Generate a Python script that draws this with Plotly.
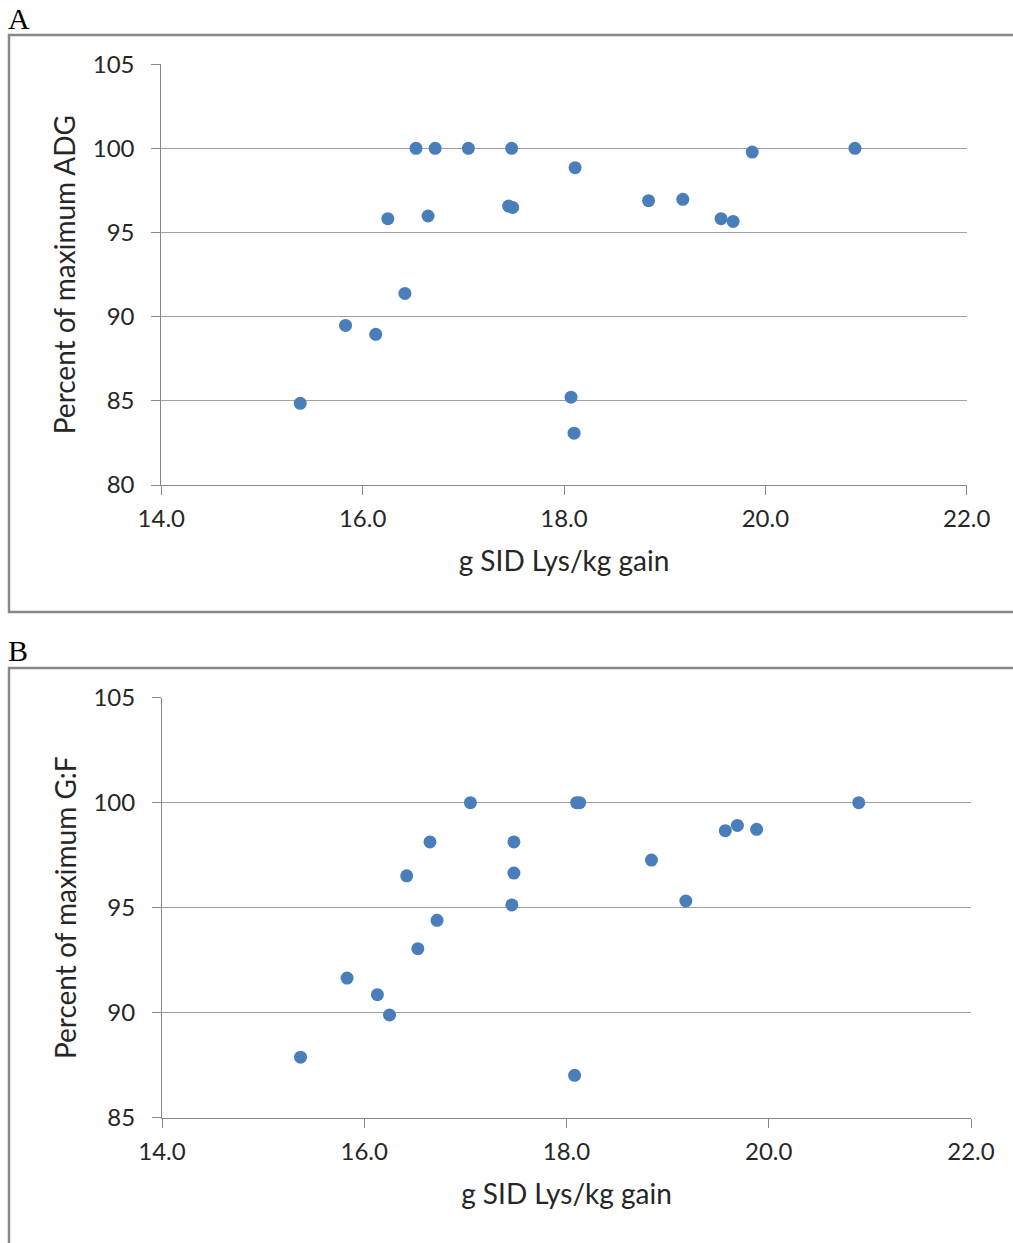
import plotly.graph_objects as go

W, H = 1013, 1243

# Panel A data: g SID Lys/kg gain vs percent of maximum ADG
lys_a = [15.38, 15.83, 16.13, 16.42, 16.25, 16.65, 16.53, 16.72, 17.05, 17.48, 17.45,
         17.49, 18.11, 18.07, 18.10, 18.84, 19.18, 19.56, 19.68, 19.87, 20.89]
adg_a = [84.85, 89.48, 88.95, 91.38, 95.82, 95.98, 100.0, 100.0, 100.0, 100.0, 96.57,
         96.49, 98.85, 85.22, 83.08, 96.89, 96.97, 95.82, 95.66, 99.78, 100.0]

# Panel B data: g SID Lys/kg gain vs percent of maximum G:F
lys_b = [15.37, 15.83, 16.13, 16.25, 16.42, 16.53, 16.65, 16.72, 17.05, 17.46, 17.48,
         17.48, 18.08, 18.10, 18.13, 18.84, 19.18, 19.57, 19.69, 19.88, 20.89]
gf_b = [87.88, 91.65, 90.86, 89.89, 96.52, 93.05, 98.13, 94.40, 100.0, 95.13, 96.65,
        98.13, 87.02, 100.0, 100.0, 97.27, 95.32, 98.67, 98.92, 98.73, 100.0]

x_ticks = [14, 16, 18, 20, 22]
x_ticktext = ["14.0", "16.0", "18.0", "20.0", "22.0"]
y_ticks_a = [80, 85, 90, 95, 100, 105]
y_ticks_b = [85, 90, 95, 100, 105]

MARKER = "#4A7EBB"
GRID = "#A0A0A0"
AXIS = "#888888"
TXT = "#262626"
FONT = "Lato"

fig = go.Figure()
fig.add_trace(go.Scatter(x=lys_a, y=adg_a, mode="markers", xaxis="x", yaxis="y",
                         marker=dict(size=13, color=MARKER, line=dict(width=0)),
                         showlegend=False))
fig.add_trace(go.Scatter(x=lys_b, y=gf_b, mode="markers", xaxis="x2", yaxis="y2",
                         marker=dict(size=13, color=MARKER, line=dict(width=0)),
                         showlegend=False))


def px_x(p):
    return p / W


def px_y(p):
    return 1 - p / H


xcommon = dict(tickmode="array", tickvals=x_ticks, ticktext=x_ticktext,
               showgrid=False, zeroline=False, showline=True, linecolor=AXIS, linewidth=1,
               ticks="outside", ticklen=9, tickcolor=AXIS, tickwidth=1,
               tickfont=dict(family=FONT, size=24, color=TXT), ticklabelstandoff=3,
               title=dict(text="g SID Lys/kg gain", font=dict(family=FONT, size=28, color=TXT),
                          standoff=20),
               range=[14, 22], fixedrange=True, automargin=False)
ycommon = dict(showgrid=True, gridcolor=GRID, gridwidth=1, zeroline=False,
               showline=True, linecolor=AXIS, linewidth=1,
               ticks="outside", ticklen=9, tickcolor=AXIS, tickwidth=1,
               tickfont=dict(family=FONT, size=24, color=TXT), ticklabelstandoff=12,
               fixedrange=True, automargin=False)

fig.update_layout(
    width=W, height=H, margin=dict(l=0, r=0, t=0, b=0, autoexpand=False),
    paper_bgcolor="white", plot_bgcolor="white",
    xaxis=dict(domain=[px_x(161.3), px_x(966.7)], anchor="y", **xcommon),
    yaxis=dict(domain=[px_y(485), px_y(64.2)], anchor="x", range=[80, 105],
               tickvals=y_ticks_a,
               title=dict(text="Percent of maximum ADG",
                          font=dict(family=FONT, size=28, color=TXT), standoff=8),
               **ycommon),
    xaxis2=dict(domain=[px_x(162), px_x(971)], anchor="y2", **xcommon),
    yaxis2=dict(domain=[px_y(1117.7), px_y(697.7)], anchor="x2", range=[85, 105],
                tickvals=y_ticks_b,
                title=dict(text="Percent of maximum G:F",
                           font=dict(family=FONT, size=28, color=TXT), standoff=8),
                **ycommon),
)

frame = dict(type="rect", xref="paper", yref="paper",
             line=dict(color="#878787", width=2.5), fillcolor="rgba(0,0,0,0)", layer="above")
fig.add_shape(x0=px_x(9), x1=1.02, y0=px_y(612), y1=px_y(35), **frame)
fig.add_shape(x0=px_x(9), x1=1.02, y0=-0.02, y1=px_y(668), **frame)

for label, ytop in (("A", 0), ("B", 632)):
    fig.add_annotation(text=label, xref="paper", yref="paper", x=px_x(6), y=px_y(ytop),
                       xanchor="left", yanchor="top", showarrow=False,
                       font=dict(family="Liberation Serif", size=30, color="black"))

fig.write_html("out.html", config={"displayModeBar": False},
               post_script="document.body.style.margin='0';document.body.style.overflow='hidden';")
